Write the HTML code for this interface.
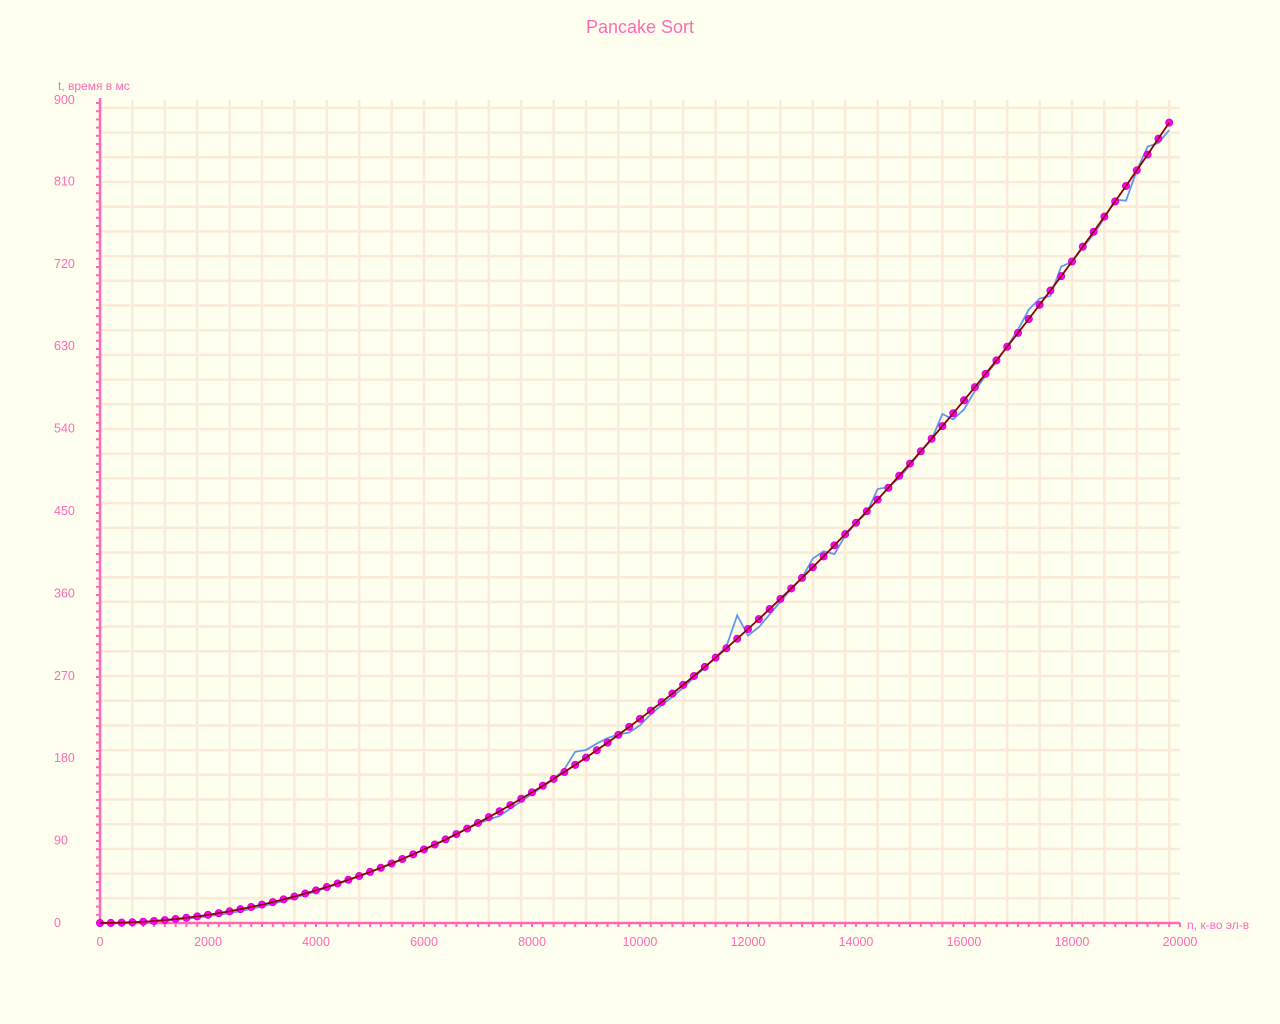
<!DOCTYPE html>
<html><head><meta charset="utf-8"><style>
html,body{margin:0;padding:0;background:#fffff0;}
svg{display:block;font-family:"Liberation Sans",sans-serif;}
</style></head><body>
<svg id="chart" width="1280" height="1024">
<rect width="1280" height="1024" fill="#fffff0"/>
<text x="640" y="33" text-anchor="middle" font-size="18" fill="#ff69b4">Pancake Sort</text>
<text x="58" y="90" font-size="12" fill="#ff69b4">t, время в мс</text>
<text x="1187" y="929" font-size="12" fill="#ff69b4">n, к-во эл-в</text>
<g id="grid"></g>
<g id="axes"></g>
<g id="marks"></g>
</svg>
<script>
const nValues = [0,200,400,600,800,1000,1200,1400,1600,1800,2000,2200,2400,2600,2800,3000,3200,3400,3600,3800,4000,4200,4400,4600,4800,5000,5200,5400,5600,5800,6000,6200,6400,6600,6800,7000,7200,7400,7600,7800,8000,8200,8400,8600,8800,9000,9200,9400,9600,9800,10000,10200,10400,10600,10800,11000,11200,11400,11600,11800,12000,12200,12400,12600,12800,13000,13200,13400,13600,13800,14000,14200,14400,14600,14800,15000,15200,15400,15600,15800,16000,16200,16400,16600,16800,17000,17200,17400,17600,17800,18000,18200,18400,18600,18800,19000,19200,19400,19600,19800];
const fitValues = [0,0.1,0.4,0.8,1.4,2.2,3.2,4.4,5.7,7.2,8.9,10.8,12.8,15.1,17.5,20.1,22.8,25.8,28.9,32.2,35.7,39.3,43.2,47.2,51.4,55.8,60.3,65,69.9,75,80.3,85.7,91.3,97.1,103.1,109.3,115.6,122.1,128.8,135.7,142.7,149.9,157.4,164.9,172.7,180.6,188.7,197,205.5,214.2,223,232,241.2,250.6,260.1,269.8,279.7,289.8,300.1,310.5,321.1,331.9,342.9,354,365.4,376.9,388.6,400.4,412.5,424.7,437.1,449.7,462.4,475.4,488.5,501.8,515.2,528.9,542.7,556.7,570.9,585.2,599.8,614.5,629.4,644.5,659.7,675.2,690.8,706.5,722.5,738.7,755,771.5,788.2,805,822.1,839.3,856.7,874.2];
const measuredValues = [0,0,0,0.5,1,1.8,2.6,3.5,4.6,5.8,7.2,9,10.8,13,15.5,18,21,24,27.5,31,34.5,38.5,42.5,46.5,51,55.5,60,65,70,75,80,85.5,91,97,103,108.5,113,117,125,133,141,149,157,168,187,189,196,202,206,208,216,228,238,247,257,268,279,290,302,336,314,323,337,351,365,377,398,406,403,423,437,448,474,476,486,500,515,528,556,550,561,581,598,613,630,648,670,682,685,717,722,738,752,770,790,789,822,848,852,866];
const yTicks = [0,90,180,270,360,450,540,630,720,810,900];
const xTicks = [0,2000,4000,6000,8000,10000,12000,14000,16000,18000,20000];

const X0=100, X1=1180, Y0=923, PX_PER=824/900;
function sx(n){return X0+(n/20000)*(X1-X0);}
function sy(v){return Y0-v*PX_PER;}
const NS="http://www.w3.org/2000/svg";
function mk(tag,attrs,parent){const e=document.createElementNS(NS,tag);for(const k in attrs)e.setAttribute(k,attrs[k]);parent.appendChild(e);return e;}
const grid=document.getElementById('grid'), axes=document.getElementById('axes'), marks=document.getElementById('marks');

for(let x=X0+32.4;x<=X1+0.5;x+=32.4){const l=mk('line',{x1:x,y1:100,x2:x,y2:Y0,stroke:'#faebd7','stroke-width':2.5},grid);

}
for(let y=Y0-24.7;y>=99;y-=24.7){const l=mk('line',{x1:X0,y1:y,x2:X1,y2:y,stroke:'#faebd7','stroke-width':2.5},grid);

}

for(let y=Y0;y>=98;y-=8.2){mk('line',{x1:X0-4,y1:y,x2:X0,y2:y,stroke:'#ff69b4','stroke-width':2},axes);}
for(let x=X0;x<=X1;x+=10.8){mk('line',{x1:x,y1:Y0,x2:x,y2:Y0+4,stroke:'#ff69b4','stroke-width':2},axes);}
const ya=mk('line',{x1:X0,y1:98,x2:X0,y2:Y0+1,stroke:'#ff69b4','stroke-width':2.5},axes);


const xa=mk('line',{x1:X0-1,y1:Y0,x2:X1,y2:Y0,stroke:'#ff69b4','stroke-width':2.5},axes);



yTicks.forEach(v=>{const t=mk('text',{x:54,y:Math.max(sy(v),100)+4,'text-anchor':'start','font-size':12.5,fill:'#ff69b4'},axes);t.textContent=v;

});
xTicks.forEach(v=>{const t=mk('text',{x:sx(v),y:946,'text-anchor':'middle','font-size':12.5,fill:'#ff69b4'},axes);t.textContent=v;

});

const blue=mk('polyline',{points:nValues.map((n,i)=>sx(n)+','+sy(measuredValues[i])).join(' '),fill:'none',stroke:'#6495ed','stroke-width':1.8},marks);


nValues.forEach((n,i)=>{const c=mk('circle',{cx:sx(n),cy:sy(fitValues[i]),r:3.6,fill:'#ff00ff',stroke:'#cc00cc','stroke-width':0.8},marks);

});
const red=mk('polyline',{points:nValues.map((n,i)=>sx(n)+','+sy(fitValues[i])).join(' '),fill:'none',stroke:'#8b0000','stroke-width':1.8},marks);


</script>
</body></html>
